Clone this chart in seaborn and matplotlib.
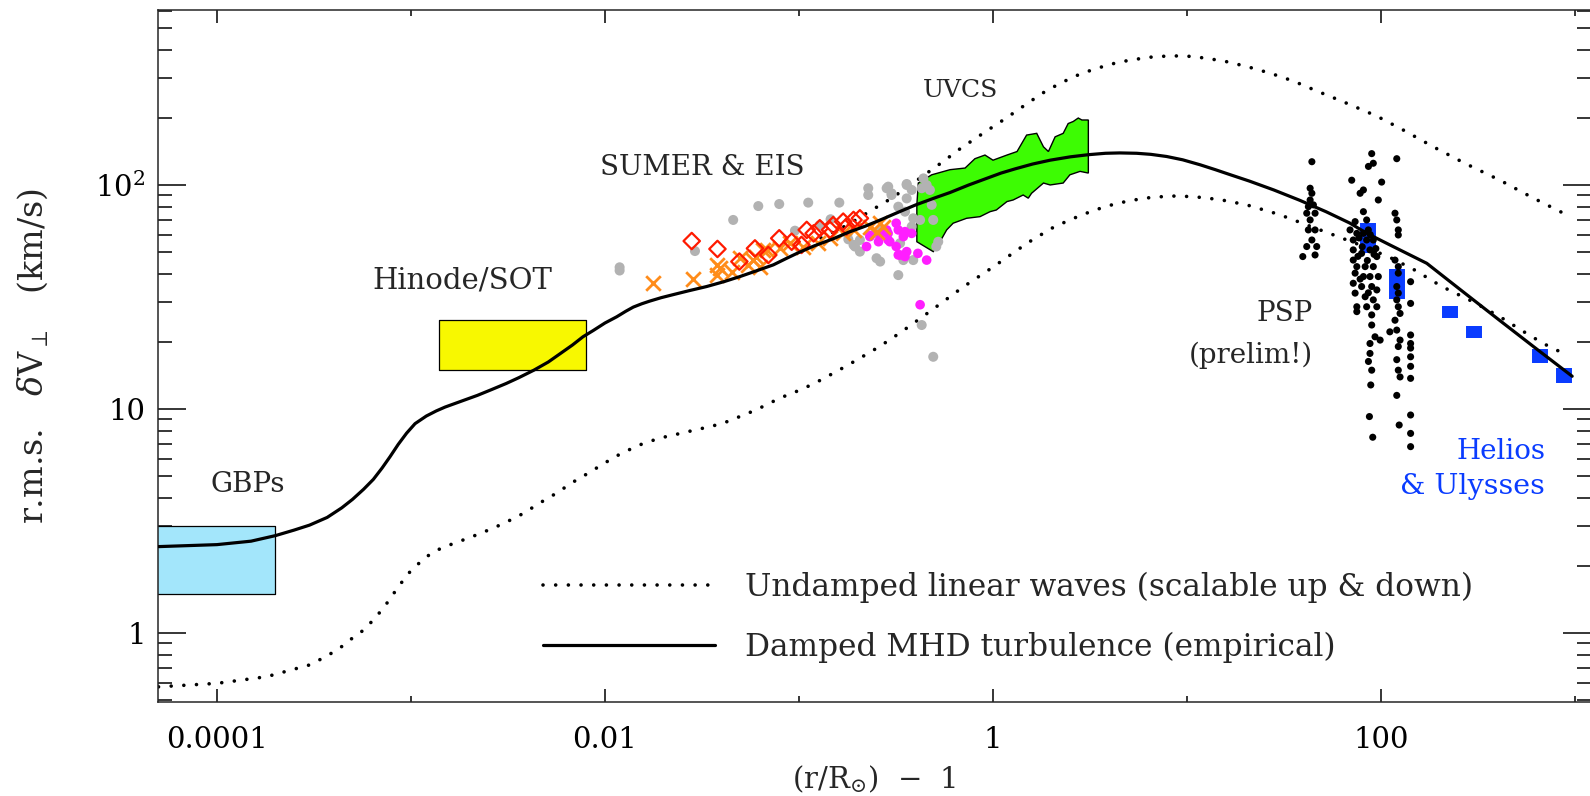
import matplotlib
matplotlib.use("Agg")
import matplotlib.pyplot as plt
import seaborn as sns
from matplotlib.ticker import FixedLocator, FixedFormatter, LogLocator, NullFormatter

sns.set_style("ticks")
plt.rcParams['font.family'] = ['DejaVu Serif']
plt.rcParams['mathtext.fontset'] = 'dejavuserif'

# ---- model curves -------------------------------------------------------
damped_x = [5.0e-5, 1.0e-4, 1.5e-4, 2.0e-4, 2.5e-4, 3.0e-4, 3.7e-4, 4.4e-4, 5.0e-4, 5.7e-4,
            6.4e-4, 7.1e-4, 7.8e-4, 8.6e-4, 9.5e-4, 1.05e-3, 1.2e-3, 1.35e-3, 1.5e-3, 1.8e-3,
            2.2e-3, 2.6e-3, 3.1e-3, 3.6e-3, 4.3e-3, 5.1e-3, 5.9e-3, 6.8e-3, 7.7e-3, 8.7e-3,
            0.010, 0.0115, 0.0128, 0.014, 0.0155, 0.017, 0.0195, 0.0225, 0.027, 0.0334,
            0.041, 0.0496, 0.06, 0.0738, 0.087, 0.10, 0.12, 0.15, 0.18, 0.22,
            0.27, 0.33, 0.40, 0.50, 0.60, 0.75, 0.90, 1.1, 1.3, 1.6,
            1.97, 2.5, 3.1, 3.8, 4.5, 5.5, 6.5, 7.85, 9.5, 11.7,
            14.0, 16.5, 21.0, 28.0, 38.0, 52.0, 69.0, 84.0, 111.0, 172.0,
            255.0, 410.0, 610.0, 966.0]
damped_y = [2.43, 2.48, 2.57, 2.72, 2.88, 3.03, 3.28, 3.62, 3.95, 4.38,
            4.85, 5.45, 6.12, 6.95, 7.8, 8.6, 9.3, 9.8, 10.2, 10.8,
            11.5, 12.2, 13.0, 13.8, 14.9, 16.2, 17.7, 19.3, 21.0, 22.4,
            24.2, 25.8, 27.3, 28.5, 29.5, 30.3, 31.4, 32.4, 33.7, 35.2,
            37.0, 39.0, 41.3, 44.0, 47.2, 50.0, 53.5, 57.5, 61.5, 65.5,
            70.5, 76.0, 81.5, 87.5, 92.5, 100.0, 106.0, 113.0, 118.0, 124.0,
            129.0, 133.5, 136.5, 138.5, 139.0, 138.5, 137.0, 134.0, 129.5, 123.0,
            117.0, 111.5, 104.0, 95.0, 85.5, 76.0, 67.6, 61.0, 54.0, 44.7,
            34.2, 24.8, 19.0, 14.0]

undamped_lo_x = [5.0e-5, 1.0e-4, 1.8e-4, 3.0e-4, 3.7e-4, 4.4e-4, 5.0e-4, 5.7e-4, 6.5e-4, 7.3e-4,
                 8.1e-4, 8.9e-4, 1.0e-3, 1.15e-3, 1.3e-3, 1.5e-3, 1.9e-3, 2.3e-3, 3.0e-3, 3.8e-3,
                 4.6e-3, 5.6e-3, 6.8e-3, 8.2e-3, 0.010, 0.012, 0.015, 0.019, 0.024, 0.029,
                 0.036, 0.043, 0.06, 0.08, 0.10, 0.12, 0.156, 0.20, 0.26, 0.33,
                 0.42, 0.53, 0.70, 1.0, 1.5, 2.0, 2.5, 3.3, 4.35, 6.0,
                 8.2, 10.8, 14.8, 20.3, 29.6, 43.0, 55.0, 80.0, 111.0, 147.0,
                 206.0, 300.0, 410.0, 550.0, 686.0, 871.0]
undamped_lo_y = [0.575, 0.596, 0.638, 0.72, 0.79, 0.87, 0.95, 1.03, 1.16, 1.31,
                 1.49, 1.67, 1.9, 2.12, 2.3, 2.43, 2.62, 2.79, 3.08, 3.42,
                 3.8, 4.2, 4.7, 5.17, 5.75, 6.3, 6.9, 7.4, 7.75, 8.05,
                 8.4, 8.8, 9.9, 11.2, 12.1, 13.0, 14.7, 16.6, 19.0, 21.8,
                 25.3, 29.3, 35.0, 43.0, 55.0, 64.0, 70.0, 77.0, 82.8, 87.3,
                 89.3, 88.7, 86.0, 81.5, 74.0, 65.5, 60.5, 53.5, 47.5, 42.0,
                 35.2, 30.0, 25.8, 22.0, 19.6, 17.7]

undamped_hi_x = [0.13, 0.15, 0.176, 0.20, 0.227, 0.26, 0.305, 0.35, 0.40, 0.483,
                 0.552, 0.676, 0.80, 1.0, 1.15, 1.49, 1.8, 2.21, 2.7, 3.29,
                 4.1, 5.08, 6.5, 8.17, 10.0, 12.6, 16.0, 20.3, 27.0, 35.3,
                 47.0, 64.0, 95.0, 130.0, 186.0, 270.0, 410.0, 600.0, 871.0]
undamped_hi_y = [58.0, 61.5, 66.0, 70.5, 75.5, 81.0, 88.0, 96.0, 104.0, 117.0,
                 127.0, 145.0, 160.0, 182.0, 197.0, 230.0, 257.0, 284.0, 308.0, 328.0,
                 347.0, 361.0, 372.0, 377.0, 376.0, 368.0, 355.0, 338.0, 315.0, 291.0,
                 262.0, 235.0, 203.0, 176.0, 148.0, 125.0, 105.0, 88.0, 74.8]

# ---- observational constraints ------------------------------------------
gbp_x = [4.0e-5, 2.0e-4]
gbp_y = [1.5, 3.0]
sot_x = [1.4e-3, 8.0e-3]
sot_y = [15.0, 25.0]

uvcs_x = [0.483, 0.600, 0.718, 0.807, 0.909, 1.00, 1.18, 1.33, 1.49, 1.68, 1.82, 1.93,
          2.09, 2.30, 2.44, 2.59, 2.75, 2.87, 3.10, 3.10,
          2.81, 2.49, 2.30, 1.97, 1.82, 1.58, 1.52, 1.43, 1.27, 1.18, 1.04, 0.966,
          0.857, 0.731, 0.623, 0.577, 0.533, 0.492, 0.405, 0.405, 0.412]
uvcs_y = [111, 117, 119, 131, 136, 129, 136, 141, 167, 170, 148, 141,
          164, 170, 188, 192, 199, 195, 195, 113,
          115, 111, 102, 100, 102, 91.8, 87.3, 90.2, 85.7, 84.3, 77.3, 76.0,
          72.2, 71.0, 67.5, 63.0, 55.8, 50.4, 55.8, 81.5, 102]

sumer_x = [0.0119, 0.0119, 0.0291, 0.0458, 0.0617, 0.0791, 0.1116, 0.1614, 0.0953, 0.128,
           0.1455, 0.2275, 0.2275, 0.2884, 0.359, 0.300, 0.359, 0.325, 0.352, 0.262,
           0.178, 0.1796, 0.1944, 0.206, 0.251, 0.262, 0.325, 0.345, 0.388, 0.381,
           0.388, 0.283, 0.300, 0.359, 0.381, 0.438, 0.455, 0.429, 0.473, 0.483,
           0.492, 0.421, 0.272, 0.247, 0.191, 0.206, 0.332, 0.522, 0.51, 0.429, 0.492]
sumer_y = [42.9, 41.5, 50.7, 69.8, 80.5, 82.2, 83.4, 83.4, 62.5, 66.2,
           70.3, 96.7, 90.2, 98.3, 101, 90.2, 87.1, 80, 76, 63,
           60.4, 57.2, 53.1, 50.4, 47.1, 45.5, 39.6, 46.2, 46.2, 65.2,
           71, 96.7, 91.8, 100, 95, 107, 100, 96.7, 95, 81.5,
           69.8, 69.8, 61.9, 60.8, 54, 56.8, 55, 55.8, 53.1, 23.7, 17.1]

eis_x = [0.223, 0.232, 0.262, 0.288, 0.325, 0.345, 0.294, 0.332, 0.359, 0.257, 0.317,
         0.352, 0.381, 0.288, 0.317, 0.325, 0.352, 0.41, 0.455, 0.421, 0.283, 0.232]
eis_y = [53.1, 58.8, 59.6, 60.8, 63, 58.8, 55.8, 48.7, 50.4, 55.8, 67.5,
         61.9, 60.8, 56.8, 53.1, 48.7, 47.9, 49.5, 46.2, 29.2, 63, 59.6]

cross_x = [0.0177, 0.0283, 0.0377, 0.0392, 0.0377, 0.0496, 0.0582, 0.063, 0.0682, 0.0798,
           0.090, 0.1053, 0.126, 0.1445, 0.169, 0.191, 0.232, 0.262, 0.0449, 0.0548,
           0.0604, 0.0654, 0.251, 0.272]
cross_y = [36.4, 37.9, 39.6, 42.5, 44.0, 47.1, 46.2, 43.2, 51.3, 52.1,
           55, 53.1, 55, 57.8, 60.8, 63, 65.2, 67.5, 41, 44,
           47.9, 51.3, 61.9, 65.2]

diam_x = [0.0280, 0.0380, 0.0493, 0.0593, 0.0695, 0.0791, 0.1096, 0.128, 0.150,
          0.169, 0.191, 0.206, 0.0917, 0.103, 0.119, 0.1445, 0.176]
diam_y = [56.2, 51.8, 45.5, 52.1, 48.7, 57.8, 63, 64.1, 66.2,
          68.6, 69.8, 71.0, 55.8, 54, 60.8, 63, 65.2]

psp_x = [44.0, 43.1, 44.0, 43.1, 42.2, 44.8, 45.7, 41.4, 43.1, 42.2, 45.7, 44.0, 41.4, 46.6, 45.7, 39.5,
         89.5, 91.2, 86.1, 70.6, 100.7, 81.1, 78.0, 96.8, 81.1, 73.5, 84.3, 69.2, 75.0, 81.1,
         71.9, 84.3, 91.2, 71.9, 79.4, 87.7, 95.1, 71.9, 75.0, 82.8, 91.2, 73.5, 81.1, 87.7,
         96.8, 71.9, 79.4, 89.5, 95.1, 73.5, 82.8, 91.2, 75.0, 84.3, 95.1, 75.0, 89.5, 89.5,
         93.1, 87.7, 98.9, 87.7, 86.1, 89.5, 88.5, 87.1, 90.6,
         77.0, 86.0, 80.0, 92.0, 76.0, 85.0, 94.0, 88.0, 78.0, 86.0,
         120.5, 118.0, 120.5, 122.7, 122.7, 118.0, 122.7, 122.7, 120.5, 122.7, 120.5, 122.7,
         125.3, 118.0, 120.5, 111.0, 125.3, 122.7, 120.5, 122.7, 125.3, 120.5, 124.0,
         142.0, 142.0, 142.0, 142.0, 142.0, 142.0, 142.0, 142.0, 142.0, 142.0, 142.0]
psp_y = [127, 96.7, 91.8, 85.7, 80, 81.5, 74.8, 74.8, 69.8, 63, 63, 56.8, 53.1, 53.1, 48.7, 47.9,
         138, 125, 121, 105, 103, 95, 91.8, 85.7, 76, 68.6, 69.8, 63, 60.8, 60.8,
         56.8, 56.8, 56.8, 51.3, 49.5, 51.3, 47.9, 46.2, 43.2, 43.2, 43.2, 40.4, 39, 39,
         39, 36.4, 35.2, 35.2, 34, 32.9, 31.7, 30.7, 28.6, 28.6, 28.6, 27.2, 26.3, 23.7,
         21.0, 19.6, 20.3, 17.7, 16.3, 14.9, 12.8, 9.25, 7.48,
         58, 63, 53, 49, 48, 46, 52, 60, 38, 33,
         131, 74.8, 69.8, 63, 59.8, 46.2, 43.2, 40.4, 35.2, 32.9, 30.7, 28.6,
         26.7, 24.9, 22.5, 22.1, 20.3, 19.0, 16.6, 14.9, 13.9, 11.5, 8.48,
         37, 29.6, 21.4, 19.6, 18.7, 17.1, 15.5, 13.7, 9.4, 7.78, 6.79]

helios_x = [85.7, 121.0, 226.0, 303.0, 656.0, 877.0]
helios_lo = [49.7, 31.0, 25.4, 20.7, 16.1, 13.1]
helios_hi = [67.6, 42.2, 28.8, 23.5, 18.5, 15.2]

xtick_vals = [1e-4, 1e-2, 1.0, 1e2]
xtick_text = ['0.0001', '0.01', '1', '100']
ytick_vals = [1.0, 10.0, 100.0]
ytick_text = ['1', '10', r'$10^2$']

# ---- figure -------------------------------------------------------------
W, H = 1590, 796
fig = plt.figure(figsize=(W / 100, H / 100), dpi=100)
ax = fig.add_axes([158 / W, 94 / H, 1433 / W, 692 / H])
ax.set_xscale('log')
ax.set_yscale('log')

dotted = (0, (0.01, 3.5))
blue = '#0a3cff'

ax.fill_between(gbp_x, gbp_y[0], gbp_y[1], facecolor='#a3e6fb', edgecolor='black', lw=0.9, zorder=1)
ax.fill_between(sot_x, sot_y[0], sot_y[1], facecolor='#f8f800', edgecolor='black', lw=0.9, zorder=1)

sns.lineplot(x=undamped_lo_x, y=undamped_lo_y, sort=False, estimator=None, ax=ax,
             color='black', lw=2.6, linestyle=dotted, dash_capstyle='round', zorder=2)
sns.lineplot(x=undamped_hi_x, y=undamped_hi_y, sort=False, estimator=None, ax=ax,
             color='black', lw=2.6, linestyle=dotted, dash_capstyle='round', zorder=2)

ax.fill(uvcs_x, uvcs_y, facecolor='#3dfc03', edgecolor='black', lw=1.0, zorder=3)

sns.scatterplot(x=sumer_x, y=sumer_y, ax=ax, color='#b2b2b2', s=52, edgecolor='none', zorder=4)
sns.scatterplot(x=eis_x, y=eis_y, ax=ax, color='#ff1eff', s=48, edgecolor='none', zorder=5)
sns.scatterplot(x=cross_x, y=cross_y, ax=ax, color='#ff8c1a', marker='x', s=110, linewidth=2.0, zorder=6)
sns.scatterplot(x=diam_x, y=diam_y, ax=ax, marker='D', s=70, facecolor='none',
                edgecolor='#ff1a00', linewidth=1.6, zorder=7)

ax.vlines(helios_x, helios_lo, helios_hi, colors=blue, lw=11.5, zorder=8)
sns.scatterplot(x=psp_x, y=psp_y, ax=ax, color='black', s=26, edgecolor='none', zorder=9)

sns.lineplot(x=damped_x, y=damped_y, sort=False, estimator=None, ax=ax,
             color='black', lw=2.3, zorder=10)

ax.set_xlim(4.97e-5, 1208)
ax.set_ylim(0.492, 604)

# ---- axes styling -------------------------------------------------------
for s in ax.spines.values():
    s.set_linewidth(1.1)
    s.set_visible(True)

ax.xaxis.set_major_locator(FixedLocator(xtick_vals))
ax.xaxis.set_major_formatter(FixedFormatter(xtick_text))
ax.xaxis.set_minor_locator(FixedLocator([1e-5, 1e-3, 1e-1, 10.0, 1e3]))
ax.xaxis.set_minor_formatter(NullFormatter())
ax.yaxis.set_major_locator(FixedLocator(ytick_vals))
ax.yaxis.set_major_formatter(FixedFormatter(ytick_text))
ax.yaxis.set_minor_locator(LogLocator(base=10, subs=range(2, 10)))
ax.yaxis.set_minor_formatter(NullFormatter())

ax.tick_params(which='both', direction='in', top=True, right=True, width=1.1,
               labelsize=21, colors='black')
ax.tick_params(axis='x', which='major', length=9.5, pad=17)
ax.tick_params(axis='x', which='minor', length=4.5)
ax.tick_params(axis='y', which='major', length=20, pad=9)
ax.tick_params(axis='y', which='minor', length=10)

ax.set_xlabel(r'(r/R$_{\odot}$)  $-$  1', fontsize=21)
ax.set_ylabel(r'r.m.s.   $\delta\mathrm{V}_{\perp}$   (km/s)', fontsize=24)
ax.xaxis.set_label_coords(0.5, -0.0882)
ax.yaxis.set_label_coords(-0.0754, 0.5)

# ---- annotations --------------------------------------------------------
ax.text(1.44e-4, 4.58, 'GBPs', ha='center', va='center', fontsize=20)
ax.text(5.33e-3, 37.3, 'Hinode/SOT', ha='right', va='center', fontsize=21)
ax.text(0.0316, 120, 'SUMER & EIS', ha='center', va='center', fontsize=20)
ax.text(0.684, 265, 'UVCS', ha='center', va='center', fontsize=18)
ax.text(44.6, 26.8, 'PSP', ha='right', va='center', fontsize=20)
ax.text(44.6, 17.4, '(prelim!)', ha='right', va='center', fontsize=20)
ax.text(700, 6.49, 'Helios', ha='right', va='center', fontsize=20, color=blue)
ax.text(700, 4.53, '& Ulysses', ha='right', va='center', fontsize=20.5, color=blue)

# ---- legend -------------------------------------------------------------
lines = ax.get_lines()
h_dot = lines[0]
h_solid = lines[-1]
ax.legend([h_dot, h_solid],
          ['Undamped linear waves (scalable up & down)', 'Damped MHD turbulence (empirical)'],
          loc='center left', bbox_to_anchor=(0.2687, 0.1228), frameon=False, fontsize=22.5,
          handlelength=5.5, handletextpad=0.96, labelspacing=0.92,
          borderpad=0, borderaxespad=0)

fig.savefig('out.png', dpi=100)
